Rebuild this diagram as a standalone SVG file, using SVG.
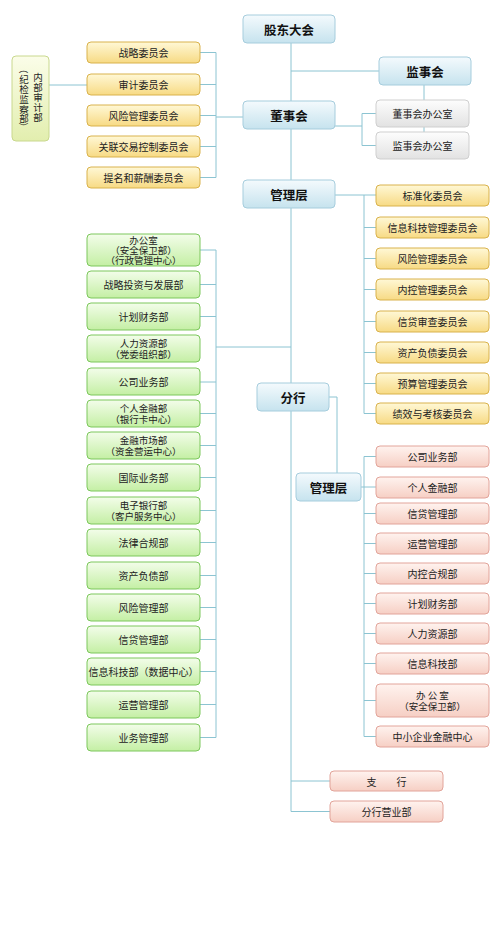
<svg xmlns="http://www.w3.org/2000/svg" width="503" height="950" viewBox="0 0 503 950">
<defs>
<linearGradient id="gb" x1="0" y1="0" x2="0" y2="1"><stop offset="0" stop-color="#f4fafd"/><stop offset="1" stop-color="#c6e3ee"/></linearGradient>
<linearGradient id="gy" x1="0" y1="0" x2="0" y2="1"><stop offset="0" stop-color="#fff8d6"/><stop offset="1" stop-color="#f7da84"/></linearGradient>
<linearGradient id="gg" x1="0" y1="0" x2="0" y2="1"><stop offset="0" stop-color="#f3fdea"/><stop offset="1" stop-color="#c4efa4"/></linearGradient>
<linearGradient id="gp" x1="0" y1="0" x2="0" y2="1"><stop offset="0" stop-color="#fff3ef"/><stop offset="1" stop-color="#f6cfc4"/></linearGradient>
<linearGradient id="gr" x1="0" y1="0" x2="0" y2="1"><stop offset="0" stop-color="#fdfdfd"/><stop offset="1" stop-color="#e2e2e2"/></linearGradient>
<linearGradient id="ga" x1="0" y1="0" x2="0" y2="1"><stop offset="0" stop-color="#fbfde9"/><stop offset="1" stop-color="#e2eeae"/></linearGradient>
</defs>
<style>
.b{fill:url(#gb);stroke:#a6cddd;stroke-width:1}
.y{fill:url(#gy);stroke:#d9b24c;stroke-width:1}
.g{fill:url(#gg);stroke:#7cc75c;stroke-width:1}
.p{fill:url(#gp);stroke:#e2a49a;stroke-width:1}
.r{fill:url(#gr);stroke:#cfcfcf;stroke-width:1}
.a{fill:url(#ga);stroke:#c9d88e;stroke-width:1}
text{font-family:"Noto Sans CJK SC","Noto Sans",sans-serif;fill:#222;text-anchor:middle;dominant-baseline:central;font-size:10px}
.t{font-size:12.5px;font-weight:bold;fill:#111}
.m{font-size:9.5px}
.v{font-size:9.5px}
.c line{stroke:#8cc4d2;stroke-width:1;fill:none}
</style>
<rect width="503" height="950" fill="#ffffff"/>
<g class="c" id="connectors">
<line x1="291" y1="43" x2="291" y2="101"/>
<line x1="291" y1="129" x2="291" y2="180"/>
<line x1="291" y1="208" x2="291" y2="383"/>
<line x1="291" y1="411" x2="291" y2="811.5"/>
<line x1="291" y1="71" x2="379" y2="71"/>
<line x1="424" y1="85" x2="424" y2="100"/>
<line x1="424" y1="127" x2="424" y2="132"/>
<line x1="216" y1="117" x2="243" y2="117"/>
<line x1="216" y1="52.5" x2="216" y2="177.5"/>
<line x1="200" y1="52.5" x2="216" y2="52.5"/>
<line x1="200" y1="84.5" x2="216" y2="84.5"/>
<line x1="200" y1="115.5" x2="216" y2="115.5"/>
<line x1="200" y1="146.5" x2="216" y2="146.5"/>
<line x1="200" y1="177.5" x2="216" y2="177.5"/>
<line x1="49" y1="85" x2="87" y2="85"/>
<line x1="335" y1="126" x2="362" y2="126"/>
<line x1="362" y1="113.5" x2="362" y2="145.5"/>
<line x1="362" y1="113.5" x2="376" y2="113.5"/>
<line x1="362" y1="145.5" x2="376" y2="145.5"/>
<line x1="335" y1="195" x2="376" y2="195"/>
<line x1="364" y1="195" x2="364" y2="413.5"/>
<line x1="364" y1="227.5" x2="376" y2="227.5"/>
<line x1="364" y1="258.5" x2="376" y2="258.5"/>
<line x1="364" y1="289.5" x2="376" y2="289.5"/>
<line x1="364" y1="321.5" x2="376" y2="321.5"/>
<line x1="364" y1="352.5" x2="376" y2="352.5"/>
<line x1="364" y1="383.5" x2="376" y2="383.5"/>
<line x1="364" y1="413.5" x2="376" y2="413.5"/>
<line x1="216" y1="347" x2="291" y2="347"/>
<line x1="216" y1="250" x2="216" y2="737.5"/>
<line x1="200" y1="250" x2="216" y2="250"/>
<line x1="200" y1="284.5" x2="216" y2="284.5"/>
<line x1="200" y1="316.5" x2="216" y2="316.5"/>
<line x1="200" y1="382" x2="216" y2="382"/>
<line x1="200" y1="413.5" x2="216" y2="413.5"/>
<line x1="200" y1="445.5" x2="216" y2="445.5"/>
<line x1="200" y1="477.5" x2="216" y2="477.5"/>
<line x1="200" y1="510.5" x2="216" y2="510.5"/>
<line x1="200" y1="542.5" x2="216" y2="542.5"/>
<line x1="200" y1="575.5" x2="216" y2="575.5"/>
<line x1="200" y1="607.5" x2="216" y2="607.5"/>
<line x1="200" y1="639.5" x2="216" y2="639.5"/>
<line x1="200" y1="671.5" x2="216" y2="671.5"/>
<line x1="200" y1="704.5" x2="216" y2="704.5"/>
<line x1="200" y1="737.5" x2="216" y2="737.5"/>
<line x1="329" y1="397" x2="337" y2="397"/>
<line x1="337" y1="397" x2="337" y2="473"/>
<line x1="361" y1="487" x2="376" y2="487"/>
<line x1="364" y1="456.5" x2="364" y2="736.5"/>
<line x1="364" y1="456.5" x2="376" y2="456.5"/>
<line x1="364" y1="513.5" x2="376" y2="513.5"/>
<line x1="364" y1="543.5" x2="376" y2="543.5"/>
<line x1="364" y1="573.5" x2="376" y2="573.5"/>
<line x1="364" y1="603.5" x2="376" y2="603.5"/>
<line x1="364" y1="633.5" x2="376" y2="633.5"/>
<line x1="364" y1="663.5" x2="376" y2="663.5"/>
<line x1="364" y1="700.5" x2="376" y2="700.5"/>
<line x1="364" y1="736.5" x2="376" y2="736.5"/>
<line x1="291" y1="781" x2="330" y2="781"/>
<line x1="291" y1="811.5" x2="330" y2="811.5"/>
</g>
<g id="gddh"><rect class="b" x="243" y="15" width="92" height="28" rx="4"/><text class="t" x="289" y="29">股东大会</text></g>
<g id="jsh"><rect class="b" x="379" y="57" width="92" height="28" rx="4"/><text class="t" x="425" y="71">监事会</text></g>
<g id="dsh"><rect class="b" x="243" y="101" width="92" height="28" rx="4"/><text class="t" x="289" y="115">董事会</text></g>
<g id="glc"><rect class="b" x="243" y="180" width="92" height="28" rx="4"/><text class="t" x="289" y="194">管理层</text></g>
<g id="fh"><rect class="b" x="257" y="383" width="72" height="28" rx="4"/><text class="t" x="293" y="397">分行</text></g>
<g id="fhglc"><rect class="b" x="296" y="473" width="65" height="28" rx="4"/><text class="t" x="328.5" y="487">管理层</text></g>
<g id="dshbgs"><rect class="r" x="376" y="100" width="93" height="27" rx="4"/><text x="422.5" y="113.5">董事会办公室</text></g>
<g id="jshbgs"><rect class="r" x="376" y="132" width="93" height="27" rx="4"/><text x="422.5" y="145.5">监事会办公室</text></g>
<g id="nbsj"><rect class="a" x="12" y="56" width="37" height="85" rx="4"/>
<text class="v" x="38" y="77">内</text><text class="v" x="38" y="87">部</text><text class="v" x="38" y="97">审</text><text class="v" x="38" y="107">计</text><text class="v" x="38" y="117">部</text>
<text class="v" x="24" y="69" transform="rotate(90 24 69)">（</text><text class="v" x="24" y="79">纪</text><text class="v" x="24" y="89">检</text><text class="v" x="24" y="99">监</text><text class="v" x="24" y="108.5">察</text><text class="v" x="24" y="118">部</text><text class="v" x="24" y="127" transform="rotate(90 24 127)">）</text></g>
<g id="zlwyh"><rect class="y" x="87" y="42" width="113" height="21" rx="4"/><text x="143.5" y="52.5">战略委员会</text></g>
<g id="sjwyh"><rect class="y" x="87" y="74" width="113" height="21" rx="4"/><text x="143.5" y="84.5">审计委员会</text></g>
<g id="fxwyh"><rect class="y" x="87" y="105" width="113" height="21" rx="4"/><text x="143.5" y="115.5">风险管理委员会</text></g>
<g id="gljy"><rect class="y" x="87" y="136" width="113" height="21" rx="4"/><text x="143.5" y="146.5">关联交易控制委员会</text></g>
<g id="tmxc"><rect class="y" x="87" y="167" width="113" height="21" rx="4"/><text x="143.5" y="177.5">提名和薪酬委员会</text></g>
<g id="bzh"><rect class="y" x="376" y="185" width="113" height="21" rx="4"/><text x="432.5" y="195.5">标准化委员会</text></g>
<g id="xxkj"><rect class="y" x="376" y="217" width="113" height="21" rx="4"/><text x="432.5" y="227.5">信息科技管理委员会</text></g>
<g id="fxgl"><rect class="y" x="376" y="248" width="113" height="21" rx="4"/><text x="432.5" y="258.5">风险管理委员会</text></g>
<g id="nkgl"><rect class="y" x="376" y="279" width="113" height="21" rx="4"/><text x="432.5" y="289.5">内控管理委员会</text></g>
<g id="xdsc"><rect class="y" x="376" y="311" width="113" height="21" rx="4"/><text x="432.5" y="321.5">信贷审查委员会</text></g>
<g id="zcfz"><rect class="y" x="376" y="342" width="113" height="21" rx="4"/><text x="432.5" y="352.5">资产负债委员会</text></g>
<g id="ysgl"><rect class="y" x="376" y="373" width="113" height="21" rx="4"/><text x="432.5" y="383.5">预算管理委员会</text></g>
<g id="jxkh"><rect class="y" x="376" y="403" width="113" height="21" rx="4"/><text x="432.5" y="413.5">绩效与考核委员会</text></g>
<g id="bgs"><rect class="g" x="87" y="234" width="113" height="32" rx="4"/><text class="m" x="143.5" y="240">办公室</text><text class="m" x="143.5" y="250">（安全保卫部）</text><text class="m" x="143.5" y="260">（行政管理中心）</text></g>
<g id="zltz"><rect class="g" x="87" y="271" width="113" height="27" rx="4"/><text x="143.5" y="284.5">战略投资与发展部</text></g>
<g id="jhcw"><rect class="g" x="87" y="303" width="113" height="27" rx="4"/><text x="143.5" y="316.5">计划财务部</text></g>
<g id="rlzy"><rect class="g" x="87" y="335" width="113" height="27" rx="4"/><text class="m" x="143.5" y="343">人力资源部</text><text class="m" x="143.5" y="354">（党委组织部）</text></g>
<g id="gsyw"><rect class="g" x="87" y="368" width="113" height="27" rx="4"/><text x="143.5" y="381.5">公司业务部</text></g>
<g id="grjr"><rect class="g" x="87" y="400" width="113" height="27" rx="4"/><text class="m" x="143.5" y="408">个人金融部</text><text class="m" x="143.5" y="419">（银行卡中心）</text></g>
<g id="jrsc"><rect class="g" x="87" y="432" width="113" height="27" rx="4"/><text class="m" x="143.5" y="440">金融市场部</text><text class="m" x="143.5" y="451">（资金营运中心）</text></g>
<g id="gjyw"><rect class="g" x="87" y="464" width="113" height="27" rx="4"/><text x="143.5" y="477.5">国际业务部</text></g>
<g id="dzyh"><rect class="g" x="87" y="497" width="113" height="27" rx="4"/><text class="m" x="143.5" y="505">电子银行部</text><text class="m" x="143.5" y="516">（客户服务中心）</text></g>
<g id="flhg"><rect class="g" x="87" y="529" width="113" height="27" rx="4"/><text x="143.5" y="542.5">法律合规部</text></g>
<g id="zcfzb"><rect class="g" x="87" y="562" width="113" height="27" rx="4"/><text x="143.5" y="575.5">资产负债部</text></g>
<g id="fxglb"><rect class="g" x="87" y="594" width="113" height="27" rx="4"/><text x="143.5" y="607.5">风险管理部</text></g>
<g id="xdglb"><rect class="g" x="87" y="626" width="113" height="27" rx="4"/><text x="143.5" y="639.5">信贷管理部</text></g>
<g id="xxkjb"><rect class="g" x="87" y="658" width="113" height="27" rx="4"/><text x="143.5" y="671.5">信息科技部（数据中心）</text></g>
<g id="yyglb"><rect class="g" x="87" y="691" width="113" height="27" rx="4"/><text x="143.5" y="704.5">运营管理部</text></g>
<g id="ywglb"><rect class="g" x="87" y="724" width="113" height="27" rx="4"/><text x="143.5" y="737.5">业务管理部</text></g>
<g id="p1"><rect class="p" x="376" y="446" width="113" height="21" rx="4"/><text x="432.5" y="456.5">公司业务部</text></g>
<g id="p2"><rect class="p" x="376" y="477" width="113" height="21" rx="4"/><text x="432.5" y="487.5">个人金融部</text></g>
<g id="p3"><rect class="p" x="376" y="503" width="113" height="21" rx="4"/><text x="432.5" y="513.5">信贷管理部</text></g>
<g id="p4"><rect class="p" x="376" y="533" width="113" height="21" rx="4"/><text x="432.5" y="543.5">运营管理部</text></g>
<g id="p5"><rect class="p" x="376" y="563" width="113" height="21" rx="4"/><text x="432.5" y="573.5">内控合规部</text></g>
<g id="p6"><rect class="p" x="376" y="593" width="113" height="21" rx="4"/><text x="432.5" y="603.5">计划财务部</text></g>
<g id="p7"><rect class="p" x="376" y="623" width="113" height="21" rx="4"/><text x="432.5" y="633.5">人力资源部</text></g>
<g id="p8"><rect class="p" x="376" y="653" width="113" height="21" rx="4"/><text x="432.5" y="663.5">信息科技部</text></g>
<g id="p9"><rect class="p" x="376" y="684" width="113" height="33" rx="4"/><text class="m" x="432.5" y="695">办 公 室</text><text class="m" x="432.5" y="706">（安全保卫部）</text></g>
<g id="p10"><rect class="p" x="376" y="726" width="113" height="21" rx="4"/><text x="432.5" y="736.5">中小企业金融中心</text></g>
<g id="zh"><rect class="p" x="330" y="771" width="113" height="20" rx="4"/><text x="386.5" y="781">支　　行</text></g>
<g id="fhyyb"><rect class="p" x="330" y="801" width="113" height="21" rx="4"/><text x="386.5" y="811.5">分行营业部</text></g>
</svg>
